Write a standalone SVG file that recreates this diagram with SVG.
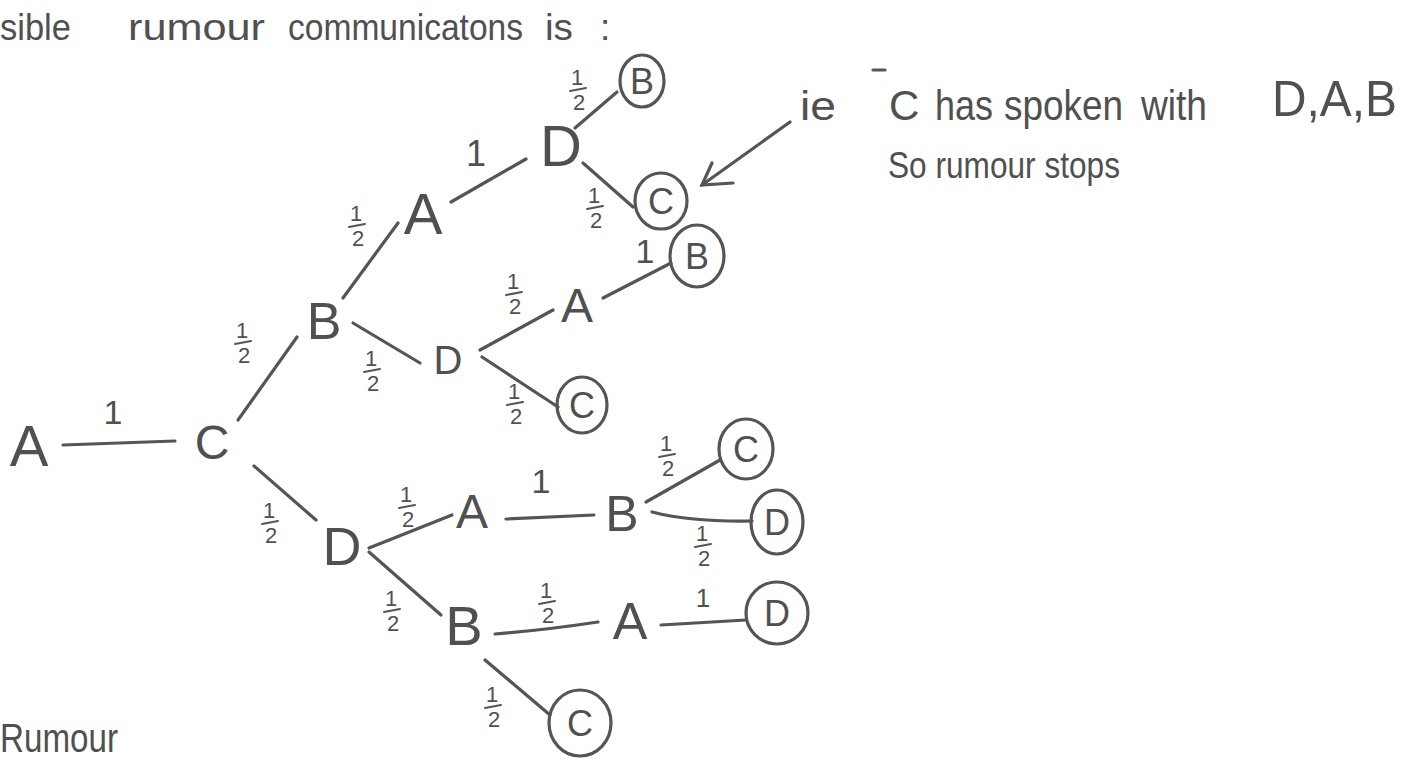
<svg xmlns="http://www.w3.org/2000/svg" width="1413" height="767" viewBox="0 0 1413 767">
<defs>
<style>
.t{font-family:"Liberation Sans","DejaVu Sans",sans-serif;fill:#505050;}
.n{text-anchor:middle;}
.cn{font-size:36px;text-anchor:middle;}
.f{font-size:22px;text-anchor:middle;}
.w{font-size:37px;}
.e{stroke:#555555;stroke-width:3.2;stroke-linecap:round;fill:none;}
.c{stroke:#555555;stroke-width:3.2;fill:none;}
.fb{stroke:#555555;stroke-width:2;stroke-linecap:round;}
</style>
</defs>
<rect width="1413" height="767" fill="#ffffff"/>

<g id="title">
<text class="t w" x="0" y="40" textLength="71" lengthAdjust="spacingAndGlyphs">sible</text>
<text class="t w" x="128" y="40" textLength="137" lengthAdjust="spacingAndGlyphs">rumour</text>
<text class="t w" x="288" y="40" textLength="235" lengthAdjust="spacingAndGlyphs">communicatons</text>
<text class="t w" x="545" y="40" textLength="28" lengthAdjust="spacingAndGlyphs">is</text>
<text class="t w" x="600" y="40">:</text>
</g>

<g id="note">
<text class="t" x="800" y="120" font-size="40" textLength="36" lengthAdjust="spacingAndGlyphs">ie</text>
<text class="t" x="889" y="120" font-size="42">C</text>
<text class="t" x="935" y="120" font-size="42" textLength="58" lengthAdjust="spacingAndGlyphs">has</text>
<text class="t" x="1004" y="120" font-size="42" textLength="119" lengthAdjust="spacingAndGlyphs">spoken</text>
<text class="t" x="1141" y="120" font-size="42" textLength="66" lengthAdjust="spacingAndGlyphs">with</text>
<text class="t" x="1272" y="116" font-size="50" textLength="125" lengthAdjust="spacingAndGlyphs">D,A,B</text>
<text class="t" x="888" y="178" font-size="36" textLength="232" lengthAdjust="spacingAndGlyphs">So rumour stops</text>
<line class="e" x1="873" y1="70" x2="885" y2="70"/>
</g>

<text class="t" x="0" y="752" font-size="40" textLength="118" lengthAdjust="spacingAndGlyphs">Rumour</text>

<g id="connectors">
<line class="e" x1="63" y1="445" x2="175" y2="441"/>
<line class="e" x1="238" y1="420" x2="297" y2="337"/>
<line class="e" x1="343" y1="298" x2="398" y2="223"/>
<line class="e" x1="451" y1="202" x2="526" y2="159"/>
<line class="e" x1="575" y1="128" x2="617" y2="92"/>
<line class="e" x1="583" y1="163" x2="633" y2="207"/>
<line class="e" x1="353" y1="323" x2="420" y2="363"/>
<line class="e" x1="480" y1="350" x2="553" y2="310"/>
<line class="e" x1="603" y1="298" x2="671" y2="263"/>
<line class="e" x1="482" y1="357" x2="558" y2="407"/>
<line class="e" x1="254" y1="466" x2="316" y2="520"/>
<line class="e" x1="369" y1="548" x2="452" y2="515"/>
<line class="e" x1="506" y1="519" x2="594" y2="515"/>
<line class="e" x1="646" y1="502" x2="720" y2="460"/>
<path class="e" d="M652,512 Q690,522 752,521"/>
<line class="e" x1="369" y1="552" x2="441" y2="615"/>
<path class="e" d="M495,634 Q545,630 598,622"/>
<line class="e" x1="661" y1="625" x2="746" y2="620"/>
<line class="e" x1="485" y1="660" x2="550" y2="715"/>
<line class="e" x1="790" y1="122" x2="702" y2="185"/>
<path class="e" d="M712,163 L702,185 L733,183"/>
</g>

<g id="labels">
<text class="t" x="113" y="424" font-size="34" text-anchor="middle">1</text>
<text class="t" x="476" y="166" font-size="36" text-anchor="middle">1</text>
<text class="t" x="645" y="263" font-size="34" text-anchor="middle">1</text>
<text class="t" x="541" y="493" font-size="34" text-anchor="middle">1</text>
<text class="t" x="703" y="607" font-size="26" text-anchor="middle">1</text>
<g><text class="t f" x="242" y="338">1</text><line class="fb" x1="235" y1="344" x2="251" y2="341"/><text class="t f" x="244" y="363">2</text></g>
<g><text class="t f" x="356" y="221">1</text><line class="fb" x1="349" y1="227" x2="365" y2="224"/><text class="t f" x="358" y="246">2</text></g>
<g><text class="t f" x="577" y="85">1</text><line class="fb" x1="570" y1="91" x2="586" y2="88"/><text class="t f" x="579" y="110">2</text></g>
<g><text class="t f" x="594" y="203">1</text><line class="fb" x1="587" y1="209" x2="603" y2="206"/><text class="t f" x="596" y="228">2</text></g>
<g><text class="t f" x="371" y="366">1</text><line class="fb" x1="364" y1="372" x2="380" y2="369"/><text class="t f" x="373" y="391">2</text></g>
<g><text class="t f" x="513" y="289">1</text><line class="fb" x1="506" y1="295" x2="522" y2="292"/><text class="t f" x="515" y="314">2</text></g>
<g><text class="t f" x="514" y="399">1</text><line class="fb" x1="507" y1="405" x2="523" y2="402"/><text class="t f" x="516" y="424">2</text></g>
<g><text class="t f" x="269" y="518">1</text><line class="fb" x1="262" y1="524" x2="278" y2="521"/><text class="t f" x="271" y="543">2</text></g>
<g><text class="t f" x="406" y="502">1</text><line class="fb" x1="399" y1="508" x2="415" y2="505"/><text class="t f" x="408" y="527">2</text></g>
<g><text class="t f" x="666" y="451">1</text><line class="fb" x1="659" y1="457" x2="675" y2="454"/><text class="t f" x="668" y="476">2</text></g>
<g><text class="t f" x="702" y="541">1</text><line class="fb" x1="695" y1="547" x2="711" y2="544"/><text class="t f" x="704" y="566">2</text></g>
<g><text class="t f" x="391" y="606">1</text><line class="fb" x1="384" y1="612" x2="400" y2="609"/><text class="t f" x="393" y="631">2</text></g>
<g><text class="t f" x="546" y="598">1</text><line class="fb" x1="539" y1="604" x2="555" y2="601"/><text class="t f" x="548" y="623">2</text></g>
<g><text class="t f" x="492" y="702">1</text><line class="fb" x1="485" y1="708" x2="501" y2="705"/><text class="t f" x="494" y="727">2</text></g>
</g>

<g id="n-A0"><text class="t n" x="29" y="466" font-size="58">A</text></g>
<g id="n-C"><text class="t n" x="212" y="459" font-size="48">C</text></g>
<g id="n-B1"><text class="t n" x="324" y="339" font-size="52">B</text></g>
<g id="n-A1"><text class="t n" x="423" y="234" font-size="58">A</text></g>
<g id="n-D1"><text class="t n" x="561" y="166" font-size="58">D</text></g>
<g id="n-Bc1"><ellipse class="c" cx="642" cy="81" rx="22" ry="26"/><text class="t cn" x="642" y="94">B</text></g>
<g id="n-Cc1"><ellipse class="c" cx="661" cy="201" rx="26" ry="28"/><text class="t cn" x="661" y="214">C</text></g>
<g id="n-D2"><text class="t n" x="448" y="374" font-size="40">D</text></g>
<g id="n-A2"><text class="t n" x="577" y="322" font-size="48">A</text></g>
<g id="n-Bc2"><ellipse class="c" cx="697" cy="256" rx="27" ry="31"/><text class="t cn" x="697" y="269">B</text></g>
<g id="n-Cc2"><ellipse class="c" cx="582" cy="405" rx="25" ry="28"/><text class="t cn" x="582" y="418">C</text></g>
<g id="n-D3"><text class="t n" x="342" y="565" font-size="54">D</text></g>
<g id="n-A3"><text class="t n" x="472" y="528" font-size="48">A</text></g>
<g id="n-B3"><text class="t n" x="622" y="531" font-size="50">B</text></g>
<g id="n-Cc3"><ellipse class="c" cx="746" cy="449" rx="27" ry="30"/><text class="t cn" x="746" y="462">C</text></g>
<g id="n-Dc3"><ellipse class="c" cx="777" cy="522" rx="26" ry="32"/><text class="t cn" x="777" y="535">D</text></g>
<g id="n-B4"><text class="t n" x="464" y="645" font-size="56">B</text></g>
<g id="n-A4"><text class="t n" x="630" y="639" font-size="52">A</text></g>
<g id="n-Dc4"><ellipse class="c" cx="777" cy="613" rx="31" ry="31"/><text class="t cn" x="777" y="626">D</text></g>
<g id="n-Cc4"><ellipse class="c" cx="580" cy="723" rx="31" ry="33"/><text class="t cn" x="580" y="736">C</text></g>
</svg>
